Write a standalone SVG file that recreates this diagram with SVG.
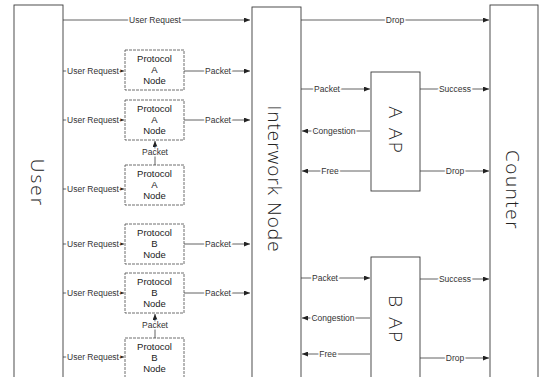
<svg xmlns="http://www.w3.org/2000/svg" width="541" height="377" viewBox="0 0 541 377">
<style>
  .box{fill:#fff;stroke:#3a3a3a;stroke-width:0.9}
  .pbox{fill:#fff;stroke:#4a4a4a;stroke-width:0.8;stroke-dasharray:3 1}
  .ln{fill:none;stroke:#3a3a3a;stroke-width:0.8;marker-end:url(#ah)}
  .lbl{font-family:"Liberation Sans",Arial,sans-serif;font-size:8.5px;fill:#333;text-anchor:middle;paint-order:stroke;stroke:#fff;stroke-width:3px}
  .nt{font-family:"Liberation Sans",Arial,sans-serif;font-size:9.5px;fill:#222;text-anchor:middle}
  .big{font-family:"Open Sans","Lato","Liberation Sans",sans-serif;font-weight:300;fill:#222;text-anchor:middle}
</style>
<defs>
  <marker id="ah" markerUnits="userSpaceOnUse" markerWidth="6" markerHeight="5" refX="6" refY="2.5" orient="auto">
    <path d="M0,0 L6,2.5 L0,5 z" fill="#222"/>
  </marker>
</defs>

<g id="user">
  <rect class="box" x="14" y="5" width="49" height="380"/>
  <text class="big" font-size="19" transform="translate(31,183) rotate(90)" letter-spacing="2">User</text>
</g>
<g id="interwork">
  <rect class="box" x="252" y="7" width="49" height="380"/>
  <text class="big" font-size="19" transform="translate(268,179) rotate(90)" letter-spacing="1">Interwork Node</text>
</g>
<g id="counter">
  <rect class="box" x="490" y="5" width="48" height="380"/>
  <text class="big" font-size="19" transform="translate(506,190) rotate(90)" letter-spacing="1.5">Counter</text>
</g>
<g id="aap">
  <rect class="box" x="371" y="72" width="49" height="119"/>
  <text class="big" font-size="19" transform="translate(389,131) rotate(90)" letter-spacing="2.5">A AP</text>
</g>
<g id="bap">
  <rect class="box" x="371" y="257" width="49" height="130"/>
  <text class="big" font-size="19" transform="translate(389,320) rotate(90)" letter-spacing="2.5">B AP</text>
</g>

<g id="pa1">
  <rect class="pbox" x="125" y="50" width="59" height="40"/>
  <text class="nt" x="154.5" y="61.5">Protocol</text><text class="nt" x="154.5" y="72.5">A</text><text class="nt" x="154.5" y="84">Node</text>
</g>
<g id="pa2">
  <rect class="pbox" x="125" y="100" width="59" height="40"/>
  <text class="nt" x="154.5" y="111.5">Protocol</text><text class="nt" x="154.5" y="122.5">A</text><text class="nt" x="154.5" y="134">Node</text>
</g>
<g id="pa3">
  <rect class="pbox" x="125" y="165" width="59" height="40"/>
  <text class="nt" x="154.5" y="176.5">Protocol</text><text class="nt" x="154.5" y="187.5">A</text><text class="nt" x="154.5" y="199">Node</text>
</g>
<g id="pb1">
  <rect class="pbox" x="125" y="224" width="59" height="40"/>
  <text class="nt" x="154.5" y="235.5">Protocol</text><text class="nt" x="154.5" y="246.5">B</text><text class="nt" x="154.5" y="258">Node</text>
</g>
<g id="pb2">
  <rect class="pbox" x="125" y="273" width="59" height="40"/>
  <text class="nt" x="154.5" y="284.5">Protocol</text><text class="nt" x="154.5" y="295.5">B</text><text class="nt" x="154.5" y="307">Node</text>
</g>
<g id="pb3">
  <rect class="pbox" x="125" y="338" width="59" height="45"/>
  <text class="nt" x="154.5" y="349.5">Protocol</text><text class="nt" x="154.5" y="360.5">B</text><text class="nt" x="154.5" y="372">Node</text>
</g>

<g id="connectors">
  <path class="ln" d="M63,20 H250"/>
  <path class="ln" d="M301,20 H489"/>
  <path class="ln" d="M63,71 H124"/>
  <path class="ln" d="M184,71 H250"/>
  <path class="ln" d="M63,120 H124"/>
  <path class="ln" d="M184,120 H250"/>
  <path class="ln" d="M155,165 V141"/>
  <path class="ln" d="M63,189 H124"/>
  <path class="ln" d="M63,244 H124"/>
  <path class="ln" d="M184,244 H250"/>
  <path class="ln" d="M63,293 H124"/>
  <path class="ln" d="M184,293 H250"/>
  <path class="ln" d="M155,338 V314"/>
  <path class="ln" d="M63,357 H124"/>

  <path class="ln" d="M301,89 H370"/>
  <path class="ln" d="M370,131 H302"/>
  <path class="ln" d="M370,171 H302"/>
  <path class="ln" d="M420,89 H489"/>
  <path class="ln" d="M420,171 H489"/>

  <path class="ln" d="M301,278 H370"/>
  <path class="ln" d="M370,318 H302"/>
  <path class="ln" d="M370,354 H302"/>
  <path class="ln" d="M420,279 H489"/>
  <path class="ln" d="M420,358 H489"/>

  <text class="lbl" x="155" y="23">User Request</text>
  <text class="lbl" x="395" y="23">Drop</text>
  <text class="lbl" x="93" y="74">User Request</text>
  <text class="lbl" x="218" y="74">Packet</text>
  <text class="lbl" x="93" y="123">User Request</text>
  <text class="lbl" x="218" y="123">Packet</text>
  <text class="lbl" x="155" y="155">Packet</text>
  <text class="lbl" x="93" y="192">User Request</text>
  <text class="lbl" x="93" y="247">User Request</text>
  <text class="lbl" x="218" y="247">Packet</text>
  <text class="lbl" x="93" y="296">User Request</text>
  <text class="lbl" x="218" y="296">Packet</text>
  <text class="lbl" x="155" y="328">Packet</text>
  <text class="lbl" x="93" y="360">User Request</text>

  <text class="lbl" x="327" y="92">Packet</text>
  <text class="lbl" x="334" y="134">Congestion</text>
  <text class="lbl" x="330" y="174">Free</text>
  <text class="lbl" x="455" y="92">Success</text>
  <text class="lbl" x="455" y="174">Drop</text>

  <text class="lbl" x="325" y="281">Packet</text>
  <text class="lbl" x="333" y="321">Congestion</text>
  <text class="lbl" x="328" y="357">Free</text>
  <text class="lbl" x="455" y="282">Success</text>
  <text class="lbl" x="455" y="361">Drop</text>
</g>
</svg>
